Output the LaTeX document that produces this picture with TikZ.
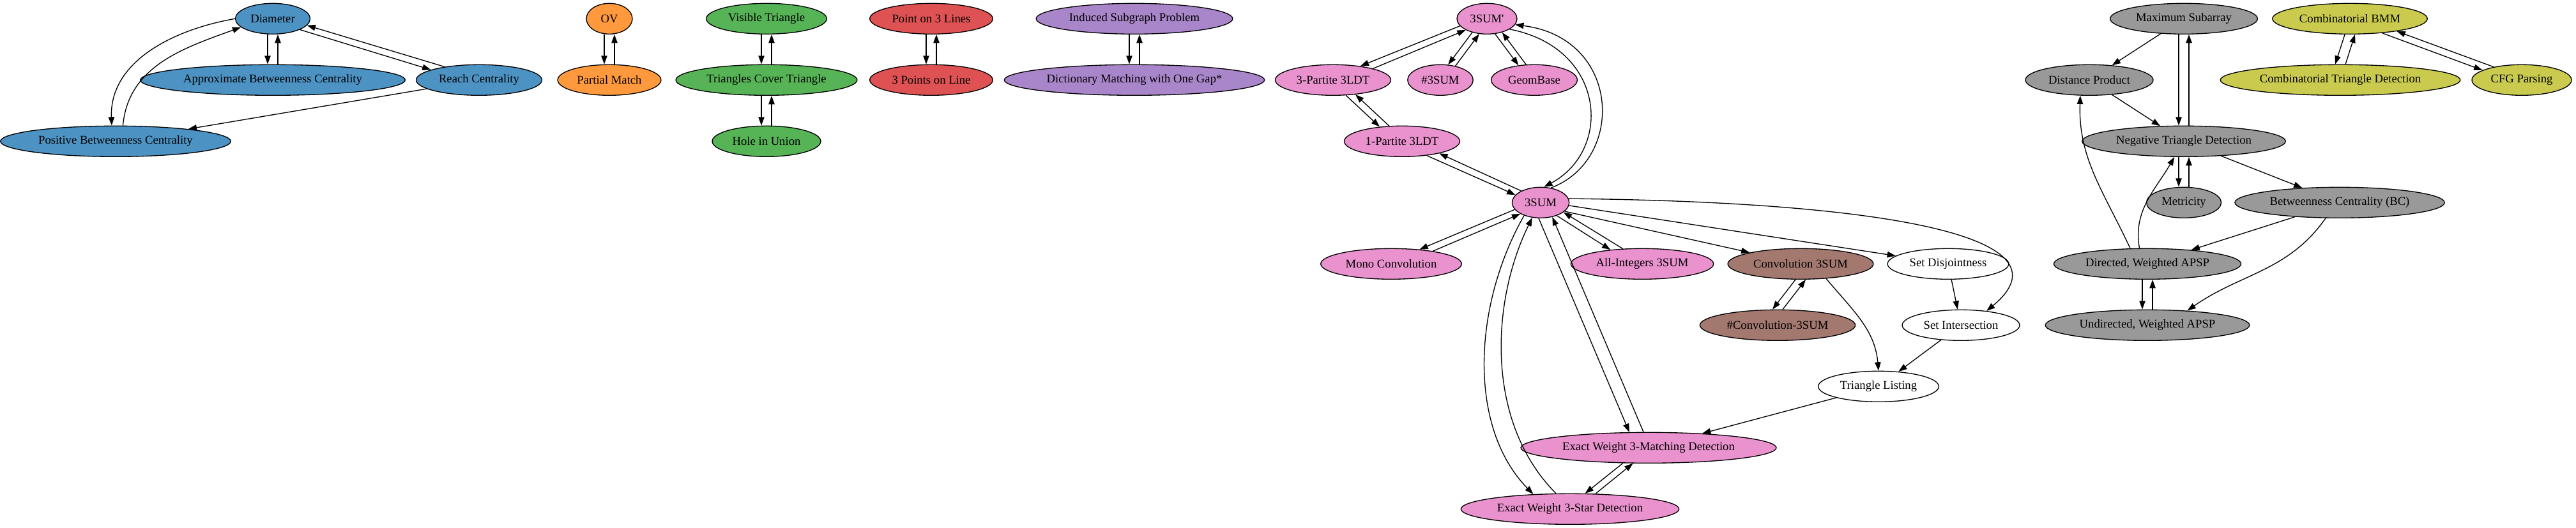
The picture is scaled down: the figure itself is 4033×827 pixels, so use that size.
\documentclass[tikz,border=0pt]{standalone}
\usepackage{fontspec}
\setmainfont{Liberation Serif}
\usetikzlibrary{shapes.geometric,arrows.meta}
\definecolor{gblue}{HTML}{4C92C3}
\definecolor{gorange}{HTML}{FF993E}
\definecolor{ggreen}{HTML}{56B356}
\definecolor{gred}{HTML}{DE5253}
\definecolor{gpurple}{HTML}{A985CA}
\definecolor{gpink}{HTML}{E992CE}
\definecolor{gbrown}{HTML}{A3786F}
\definecolor{ggray}{HTML}{999999}
\definecolor{golive}{HTML}{C9CA4E}
\begin{document}
\begin{tikzpicture}[x=0.75pt, y=0.75pt, line width=1pt,
      >={Triangle[length=10pt,width=7pt]},
      every node/.style = {shape=ellipse, draw, inner xsep=5pt, inner ysep=3pt,
        minimum height=36pt, minimum width=54pt,
        font=\fontsize{14}{16}\selectfont},
      bluenode/.style = {fill=gblue}, orangenode/.style = {fill=gorange},
      greennode/.style = {fill=ggreen}, rednode/.style = {fill=gred},
      purplenode/.style = {fill=gpurple}, pinknode/.style = {fill=gpink},
      brownnode/.style = {fill=gbrown}, graynode/.style = {fill=ggray},
      olivenode/.style = {fill=golive}, whitenode/.style = {fill=white}]
  \useasboundingbox (0,0) rectangle (4033,-827);
  \node[bluenode] (dia) at (427,-29.3) {Diameter};
  \node[bluenode] (abc) at (427,-125.3) {Approximate Betweenness Centrality};
  \node[bluenode] (reach) at (750,-125.3) {Reach Centrality};
  \node[bluenode] (pbc) at (181,-221.3) {Positive Betweenness Centrality};
  \node[orangenode] (ov) at (954,-29.3) {OV};
  \node[orangenode] (pm) at (954,-125.3) {Partial Match};
  \node[greennode] (vt) at (1200,-29.3) {Visible Triangle};
  \node[greennode] (tct) at (1200,-125.3) {Triangles Cover Triangle};
  \node[greennode] (hiu) at (1200,-221.3) {Hole in Union};
  \node[rednode] (p3l) at (1458,-29.3) {Point on 3 Lines};
  \node[rednode] (tpl) at (1458,-125.3) {3 Points on Line};
  \node[purplenode] (isp) at (1776,-29.3) {Induced Subgraph Problem};
  \node[purplenode] (dmg) at (1776,-125.3) {Dictionary Matching with One Gap*};
  \node[pinknode] (tsp) at (2328,-29.3) {3SUM\textquotesingle};
  \node[pinknode] (tldt) at (2087,-125.3) {3-Partite 3LDT};
  \node[pinknode] (nsum) at (2255,-125.3) {\#3SUM};
  \node[pinknode] (geo) at (2402,-125.3) {GeomBase};
  \node[pinknode] (oldt) at (2195,-221.3) {1-Partite 3LDT};
  \node[pinknode] (tsum) at (2412,-317.3) {3SUM};
  \node[pinknode] (mono) at (2178,-413.3) {Mono Convolution};
  \node[pinknode] (allint) at (2571,-413.3) {All-Integers 3SUM};
  \node[brownnode] (conv) at (2819,-413.3) {Convolution 3SUM};
  \node[whitenode] (sdis) at (3050,-413.3) {Set Disjointness};
  \node[brownnode] (nconv) at (2783,-509.3) {\#Convolution-3SUM};
  \node[whitenode] (sint) at (3070,-509.3) {Set Intersection};
  \node[whitenode] (tlist) at (2941,-605.3) {Triangle Listing};
  \node[pinknode] (ewm) at (2581,-701.3) {Exact Weight 3-Matching Detection};
  \node[pinknode] (ews) at (2458,-797.3) {Exact Weight 3-Star Detection};
  \node[graynode] (msa) at (3419,-29.3) {Maximum Subarray};
  \node[graynode] (dprod) at (3271,-125.3) {Distance Product};
  \node[graynode] (ntd) at (3419,-221.3) {Negative Triangle Detection};
  \node[graynode] (met) at (3419,-317.3) {Metricity};
  \node[graynode] (bc) at (3663,-317.3) {Betweenness Centrality (BC)};
  \node[graynode] (dapsp) at (3362,-413.3) {Directed, Weighted APSP};
  \node[graynode] (uapsp) at (3362,-509.3) {Undirected, Weighted APSP};
  \node[olivenode] (cbmm) at (3679,-29.3) {Combinatorial BMM};
  \node[olivenode] (ctd) at (3664,-125.3) {Combinatorial Triangle Detection};
  \node[olivenode] (cfg) at (3948,-125.3) {CFG Parsing};

  \draw[->] ([xshift=-6pt]dia.south) -- ([xshift=-6pt]abc.north);
  \draw[->] ([xshift=6pt]abc.north) -- ([xshift=6pt]dia.south);
  \draw[->] (dia.-22) -- (reach.168);
  \draw[->] (reach.159) -- (dia.-11);
  \draw[->] (dia.180) to[out=190,in=92] (pbc.104);
  \draw[->] (pbc.65) to[out=85,in=200] (dia.195);
  \draw[->] (reach) -- (pbc);
  \draw[->] ([xshift=-6pt]ov.south) -- ([xshift=-6pt]pm.north);
  \draw[->] ([xshift=6pt]pm.north) -- ([xshift=6pt]ov.south);
  \draw[->] ([xshift=-6pt]vt.south) -- ([xshift=-6pt]tct.north);
  \draw[->] ([xshift=6pt]tct.north) -- ([xshift=6pt]vt.south);
  \draw[->] ([xshift=-6pt]tct.south) -- ([xshift=-6pt]hiu.north);
  \draw[->] ([xshift=6pt]hiu.north) -- ([xshift=6pt]tct.south);
  \draw[->] ([xshift=-6pt]p3l.south) -- ([xshift=-6pt]tpl.north);
  \draw[->] ([xshift=6pt]tpl.north) -- ([xshift=6pt]p3l.south);
  \draw[->] ([xshift=-6pt]isp.south) -- ([xshift=-6pt]dmg.north);
  \draw[->] ([xshift=6pt]dmg.north) -- ([xshift=6pt]isp.south);

  \draw[->] (tsp.195) -- (tldt.27);
  \draw[->] (tldt.16) -- (tsp.208);
  \draw[->] (tsp.223) -- (nsum.63);
  \draw[->] (nsum.43) -- (tsp.243);
  \draw[->] (tsp.-62) -- (geo.137);
  \draw[->] (geo.118) -- (tsp.-42);
  \draw[->] (tsp.-25) .. controls +(151,-29) and +(108,58) .. (tsum.78);
  \draw[->] (tsum.55) .. controls +(117,44) and +(166,-21) .. (tsp.-12);
  \draw[->] (tldt.-50) -- (oldt.147);
  \draw[->] (oldt.130) -- (tldt.-33);
  \draw[->] (oldt.-30) -- (tsum.163);
  \draw[->] (tsum.149) -- (oldt.-18);
  \draw[->] (tsum.195) -- (mono.27);
  \draw[->] (mono.17) -- (tsum.209);
  \draw[->] (tsum.-39) -- (allint.156);
  \draw[->] (allint.142) -- (tsum.-23);
  \draw[->] (tsum.-20) -- (conv);
  \draw[->] (tsum.-6) -- (sdis);
  \draw[->] (tsum.8) .. controls +(492,-5) and +(141,117) .. (sint.29);
  \draw[->] (tsum.-142) .. controls +(-81,-143) and +(-102,104) .. (ews.158);
  \draw[->] (ews.132) .. controls +(-112,113) and +(-64,-130) .. (tsum.-119);
  \draw[->] (tsum.-97) -- (ewm.141);
  \draw[->] (ewm.108) -- (tsum.-51);
  \draw[->] (ewm.211) -- (ews.46);
  \draw[->] (ews.31) -- (ewm.225);
  \draw[->] ([xshift=-6pt]conv.south) -- ([xshift=-6pt]nconv.north);
  \draw[->] ([xshift=6pt]nconv.north) -- ([xshift=6pt]conv.south);
  \draw[->] (conv.-30) to[out=-50,in=95] (tlist.north);
  \draw[->] (sdis) -- (sint);
  \draw[->] (sint) -- (tlist);
  \draw[->] (tlist) -- (ewm);

  \draw[->] (msa) -- (dprod);
  \draw[->] ([xshift=-6pt]msa.south) -- ([xshift=-6pt]ntd.north);
  \draw[->] ([xshift=6pt]ntd.north) -- ([xshift=6pt]msa.south);
  \draw[->] (dprod) -- (ntd);
  \draw[->] ([xshift=-6pt]ntd.south) -- ([xshift=-6pt]met.north);
  \draw[->] ([xshift=6pt]met.north) -- ([xshift=6pt]ntd.south);
  \draw[->] (ntd) -- (bc);
  \draw[->] (bc) -- (dapsp);
  \draw[->] (bc.-132) to[out=-125,in=35] (uapsp.20);
  \draw[->] (dapsp.138) to[out=115,in=-92] (dprod.-120);
  \draw[->] (dapsp.117) to[out=100,in=-120] (ntd.-121);
  \draw[->] ([xshift=-6pt]dapsp.south) -- ([xshift=-6pt]uapsp.north);
  \draw[->] ([xshift=6pt]uapsp.north) -- ([xshift=6pt]dapsp.south);
  \draw[->] ([xshift=-6pt]cbmm.south) -- ([xshift=-6pt]ctd.north);
  \draw[->] ([xshift=6pt]ctd.north) -- ([xshift=6pt]cbmm.south);
  \draw[->] (cbmm.-24) -- (cfg.166);
  \draw[->] (cfg.155) -- (cbmm.-15);
\end{tikzpicture}
\end{document}
